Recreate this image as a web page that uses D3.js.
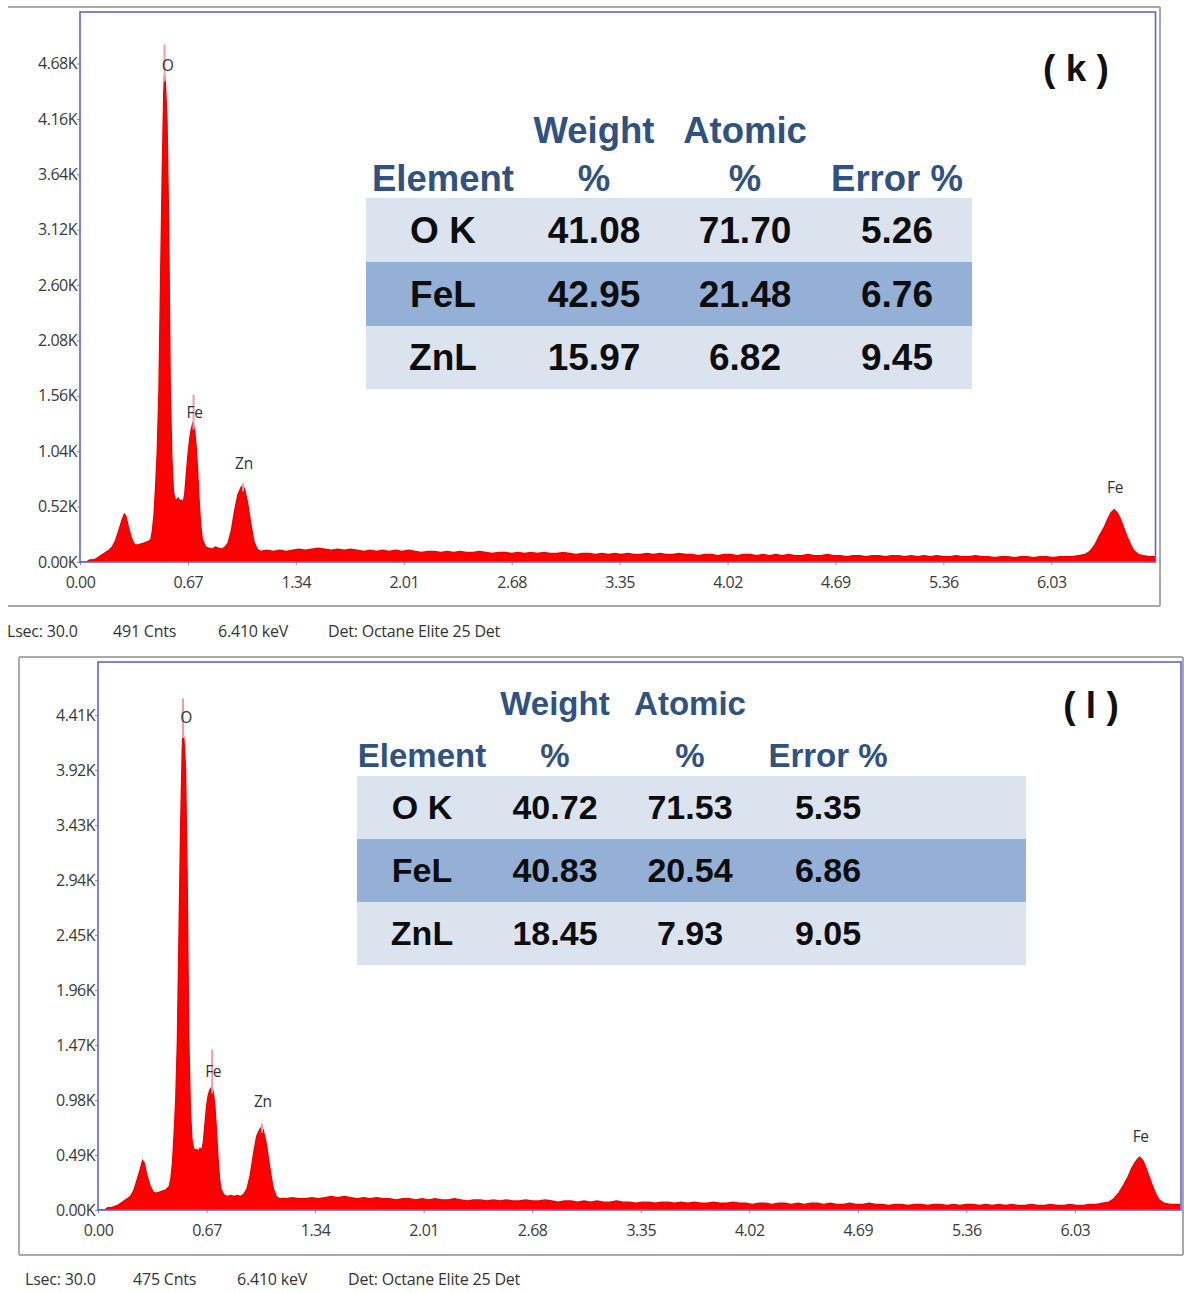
<!DOCTYPE html>
<html>
<head>
<meta charset="utf-8">
<script src="https://cdn.jsdelivr.net/npm/d3@7"></script>
<style>
  html, body { margin: 0; padding: 0; background: #fff; }
  svg { display: block; }
</style>
</head>
<body>
<svg id="fig" width="1184" height="1293"></svg>
<script>
// ---------------- EDS spectra: [energy (keV), counts (K)] ----------------
const spectrumK = [
  [0.00,0.00],[0.04,0.00],[0.06,0.02],[0.08,0.02],[0.10,0.03],[0.12,0.05],[0.14,0.07],[0.16,0.09],
  [0.18,0.11],[0.20,0.14],[0.22,0.20],[0.24,0.29],[0.26,0.39],[0.275,0.45],[0.285,0.43],[0.30,0.33],
  [0.32,0.22],[0.34,0.16],[0.36,0.16],[0.38,0.17],[0.40,0.18],[0.42,0.19],[0.44,0.21],[0.45,0.30],
  [0.46,0.45],[0.47,0.72],[0.48,1.05],[0.49,1.60],[0.50,2.60],[0.51,3.60],[0.52,4.40],[0.525,4.57],
  [0.53,4.50],[0.54,4.15],[0.55,3.20],[0.56,1.65],[0.57,0.98],[0.58,0.66],[0.59,0.59],[0.60,0.58],
  [0.61,0.60],[0.62,0.57],[0.63,0.58],[0.64,0.56],[0.65,0.63],[0.66,0.82],[0.67,1.00],[0.68,1.14],
  [0.69,1.24],[0.70,1.30],[0.71,1.26],[0.72,1.10],[0.73,0.86],[0.74,0.56],[0.75,0.33],[0.76,0.21],
  [0.78,0.14],[0.80,0.13],[0.82,0.12],[0.84,0.14],[0.86,0.13],[0.88,0.12],[0.90,0.14],[0.92,0.18],
  [0.94,0.30],[0.96,0.48],[0.98,0.63],[1.00,0.70],[1.01,0.72],[1.02,0.69],[1.04,0.56],[1.06,0.36],
  [1.08,0.19],[1.10,0.12],[1.12,0.10],[1.16,0.11],[1.20,0.10],[1.24,0.11],[1.28,0.10],[1.32,0.11],
  [1.36,0.12],[1.40,0.11],[1.44,0.12],[1.48,0.13],[1.52,0.12],[1.56,0.11],[1.60,0.12],[1.64,0.11],
  [1.68,0.12],[1.72,0.11],[1.76,0.10],[1.80,0.11],[1.84,0.10],[1.88,0.11],[1.92,0.10],[1.96,0.11],
  [2.00,0.10],[2.04,0.11],[2.08,0.10],[2.12,0.09],[2.16,0.10],[2.20,0.10],[2.24,0.09],[2.28,0.10],
  [2.32,0.09],[2.36,0.10],[2.40,0.09],[2.44,0.09],[2.48,0.10],[2.52,0.09],[2.56,0.08],[2.60,0.09],
  [2.64,0.09],[2.68,0.08],[2.72,0.09],[2.76,0.08],[2.80,0.09],[2.84,0.08],[2.88,0.09],[2.92,0.08],
  [2.96,0.08],[3.00,0.09],[3.04,0.08],[3.08,0.07],[3.12,0.08],[3.16,0.08],[3.20,0.07],[3.24,0.08],
  [3.28,0.07],[3.32,0.08],[3.36,0.07],[3.40,0.08],[3.44,0.07],[3.48,0.07],[3.52,0.08],[3.56,0.07],
  [3.60,0.08],[3.64,0.07],[3.68,0.07],[3.72,0.08],[3.76,0.07],[3.80,0.07],[3.84,0.06],[3.88,0.07],
  [3.92,0.07],[3.96,0.06],[4.00,0.07],[4.04,0.07],[4.08,0.06],[4.12,0.07],[4.16,0.07],[4.20,0.06],
  [4.24,0.07],[4.28,0.06],[4.32,0.07],[4.36,0.06],[4.40,0.07],[4.44,0.06],[4.48,0.06],[4.52,0.07],
  [4.56,0.06],[4.60,0.06],[4.64,0.07],[4.68,0.06],[4.72,0.06],[4.76,0.05],[4.80,0.06],[4.84,0.06],
  [4.88,0.05],[4.92,0.06],[4.96,0.06],[5.00,0.05],[5.04,0.06],[5.08,0.06],[5.12,0.05],[5.16,0.06],
  [5.20,0.05],[5.24,0.06],[5.28,0.05],[5.32,0.06],[5.36,0.05],[5.40,0.05],[5.44,0.06],[5.48,0.05],
  [5.52,0.05],[5.56,0.06],[5.60,0.05],[5.64,0.05],[5.68,0.04],[5.72,0.05],[5.76,0.05],[5.80,0.04],
  [5.84,0.05],[5.88,0.05],[5.92,0.04],[5.96,0.05],[6.00,0.05],[6.04,0.04],[6.08,0.05],[6.12,0.05],
  [6.16,0.05],[6.20,0.06],[6.24,0.07],[6.27,0.10],[6.30,0.16],[6.33,0.25],[6.36,0.33],[6.38,0.40],
  [6.40,0.46],[6.42,0.49],[6.44,0.46],[6.46,0.40],[6.48,0.32],[6.50,0.24],[6.52,0.17],[6.54,0.11],
  [6.57,0.07],[6.60,0.06],[6.64,0.05],[6.68,0.05]
];

const spectrumL = [
  [0.00,0.00],[0.04,0.00],[0.06,0.02],[0.08,0.02],[0.10,0.03],[0.12,0.04],[0.14,0.06],[0.16,0.08],
  [0.18,0.10],[0.20,0.12],[0.22,0.17],[0.24,0.26],[0.26,0.36],[0.275,0.44],[0.285,0.42],[0.30,0.32],
  [0.32,0.22],[0.34,0.16],[0.36,0.15],[0.38,0.16],[0.40,0.17],[0.42,0.18],[0.44,0.21],[0.45,0.28],
  [0.46,0.42],[0.47,0.68],[0.48,0.98],[0.49,1.50],[0.50,2.45],[0.51,3.40],[0.52,4.10],[0.525,4.26],
  [0.53,4.20],[0.54,3.95],[0.55,3.00],[0.56,1.55],[0.57,0.90],[0.58,0.62],[0.59,0.55],[0.60,0.53],
  [0.61,0.54],[0.62,0.52],[0.63,0.55],[0.64,0.53],[0.65,0.60],[0.66,0.76],[0.67,0.92],[0.68,1.02],
  [0.69,1.07],[0.70,1.09],[0.71,1.06],[0.72,0.95],[0.73,0.74],[0.74,0.48],[0.75,0.28],[0.76,0.18],
  [0.78,0.13],[0.80,0.12],[0.82,0.13],[0.84,0.12],[0.86,0.13],[0.88,0.12],[0.90,0.14],[0.92,0.19],
  [0.94,0.31],[0.96,0.50],[0.98,0.66],[1.00,0.72],[1.01,0.74],[1.02,0.71],[1.04,0.58],[1.06,0.38],
  [1.08,0.20],[1.10,0.12],[1.12,0.10],[1.16,0.10],[1.20,0.11],[1.24,0.10],[1.28,0.10],[1.32,0.11],
  [1.36,0.10],[1.40,0.11],[1.44,0.12],[1.48,0.11],[1.52,0.12],[1.56,0.11],[1.60,0.10],[1.64,0.11],
  [1.68,0.10],[1.72,0.11],[1.76,0.10],[1.80,0.10],[1.84,0.09],[1.88,0.10],[1.92,0.10],[1.96,0.09],
  [2.00,0.10],[2.04,0.09],[2.08,0.10],[2.12,0.09],[2.16,0.09],[2.20,0.10],[2.24,0.09],[2.28,0.08],
  [2.32,0.09],[2.36,0.09],[2.40,0.08],[2.44,0.09],[2.48,0.08],[2.52,0.09],[2.56,0.08],[2.60,0.08],
  [2.64,0.09],[2.68,0.08],[2.72,0.08],[2.76,0.09],[2.80,0.08],[2.84,0.07],[2.88,0.08],[2.92,0.08],
  [2.96,0.07],[3.00,0.08],[3.04,0.07],[3.08,0.08],[3.12,0.07],[3.16,0.07],[3.20,0.08],[3.24,0.07],
  [3.28,0.07],[3.32,0.06],[3.36,0.07],[3.40,0.07],[3.44,0.06],[3.48,0.07],[3.52,0.07],[3.56,0.06],
  [3.60,0.07],[3.64,0.06],[3.68,0.07],[3.72,0.06],[3.76,0.06],[3.80,0.07],[3.84,0.06],[3.88,0.06],
  [3.92,0.07],[3.96,0.06],[4.00,0.06],[4.04,0.05],[4.08,0.06],[4.12,0.06],[4.16,0.05],[4.20,0.06],
  [4.24,0.06],[4.28,0.05],[4.32,0.06],[4.36,0.05],[4.40,0.06],[4.44,0.06],[4.48,0.05],[4.52,0.06],
  [4.56,0.05],[4.60,0.05],[4.64,0.06],[4.68,0.05],[4.72,0.05],[4.76,0.06],[4.80,0.05],[4.84,0.05],
  [4.88,0.04],[4.92,0.05],[4.96,0.05],[5.00,0.04],[5.04,0.05],[5.08,0.05],[5.12,0.04],[5.16,0.05],
  [5.20,0.05],[5.24,0.04],[5.28,0.05],[5.32,0.04],[5.36,0.05],[5.40,0.05],[5.44,0.04],[5.48,0.05],
  [5.52,0.04],[5.56,0.05],[5.60,0.04],[5.64,0.05],[5.68,0.04],[5.72,0.04],[5.76,0.05],[5.80,0.04],
  [5.84,0.04],[5.88,0.05],[5.92,0.04],[5.96,0.04],[6.00,0.05],[6.04,0.04],[6.08,0.04],[6.12,0.05],
  [6.16,0.05],[6.20,0.06],[6.24,0.07],[6.27,0.10],[6.30,0.15],[6.33,0.22],[6.36,0.30],[6.38,0.37],
  [6.40,0.42],[6.42,0.46],[6.43,0.47],[6.45,0.44],[6.47,0.37],[6.49,0.29],[6.51,0.21],[6.53,0.14],
  [6.55,0.09],[6.58,0.06],[6.62,0.05],[6.68,0.05]
];

// ---------------- axis ticks ----------------
const xTicks  = [0.00, 0.67, 1.34, 2.01, 2.68, 3.35, 4.02, 4.69, 5.36, 6.03];
const yTicksK = [0.00, 0.52, 1.04, 1.56, 2.08, 2.60, 3.12, 3.64, 4.16, 4.68];
const yTicksL = [0.00, 0.49, 0.98, 1.47, 1.96, 2.45, 2.94, 3.43, 3.92, 4.41];

// ---------------- element line markers: energy, marker tip (K), label height (K) ----------------
const markersK = [
  { el: "O",  keV: 0.525, peak: 4.57, tip: 4.86, label: 4.66 },
  { el: "Fe", keV: 0.705, peak: 1.30, tip: 1.57, label: 1.40 },
  { el: "Zn", keV: 1.012, peak: 0.72, tip: 0.74, label: 0.92 },
  { el: "Fe", keV: 6.420, peak: 0.49, tip: 0.49, label: 0.70 }
];
const markersL = [
  { el: "O",  keV: 0.525, peak: 4.26, tip: 4.56, label: 4.39 },
  { el: "Fe", keV: 0.705, peak: 1.09, tip: 1.43, label: 1.23 },
  { el: "Zn", keV: 1.012, peak: 0.74, tip: 0.77, label: 0.97 },
  { el: "Fe", keV: 6.430, peak: 0.47, tip: 0.47, label: 0.65 }
];

// ---------------- quantification tables ----------------
const tableElements = ["O K", "FeL", "ZnL"];
const weightK = [41.08, 42.95, 15.97];
const atomicK = [71.70, 21.48, 6.82];
const errorK  = [5.26, 6.76, 9.45];
const weightL = [40.72, 40.83, 18.45];
const atomicL = [71.53, 20.54, 7.93];
const errorL  = [5.35, 6.86, 9.05];

// ---------------- acquisition footers ----------------
const footerK = ["Lsec: 30.0", "491 Cnts", "6.410 keV", "Det: Octane Elite 25 Det"];
const footerL = ["Lsec: 30.0", "475 Cnts", "6.410 keV", "Det: Octane Elite 25 Det"];

// ---------------- layout ----------------
const panels = [
  {
    tag: "( k )", tagPos: [1076, 68],
    frame: { x0: 8, y0: 7, x1: 1160, y1: 606, left: false },
    plot: { left: 80, top: 12, right: 1155.5, bottom: 562 },
    xMax: 6.677, yMax: 5.164,
    spectrum: spectrumK, yTicks: yTicksK, markers: markersK,
    footer: footerK, footerX: [7, 113, 218, 328], footerY: 631,
    table: { x0: 366, x1: 972, rowTops: [198, 262, 326, 389], cols: [443, 594, 745, 897],
             head1: 130, head2: 178, headSize: 36.5, bodySize: 37,
             weight: weightK, atomic: atomicK, error: errorK }
  },
  {
    tag: "( l )", tagPos: [1091, 705],
    frame: { x0: 19, y0: 657, x1: 1183, y1: 1255, left: true },
    plot: { left: 98, top: 662, right: 1181, bottom: 1210 },
    xMax: 6.685, yMax: 4.884,
    spectrum: spectrumL, yTicks: yTicksL, markers: markersL,
    footer: footerL, footerX: [25, 133, 237, 348], footerY: 1279,
    table: { x0: 357, x1: 1026, rowTops: [776, 839, 902, 965], cols: [422, 555, 690, 828],
             head1: 703, head2: 755, headSize: 33, bodySize: 34,
             weight: weightL, atomic: atomicL, error: errorL }
  }
];

const svg = d3.select("#fig");
svg.append("rect").attr("width", 1184).attr("height", 1293).attr("fill", "#fff");

const uiFont = "'Open Sans', 'Noto Sans', sans-serif";
const tableFont = "'Liberation Sans', Arial, sans-serif";
const fmt2 = d3.format(".2f");

panels.forEach((p, pi) => {
  const g = svg.append("g");
  const f = p.frame;

  // outer window frame
  const frame = g.append("g").attr("stroke", "#a9a9a9").attr("stroke-width", 2).attr("fill", "none");
  frame.append("line").attr("x1", f.x0).attr("x2", f.x1).attr("y1", f.y0).attr("y2", f.y0);
  frame.append("line").attr("x1", f.x1).attr("x2", f.x1).attr("y1", f.y0).attr("y2", f.y1);
  frame.append("line").attr("x1", f.x0).attr("x2", f.x1).attr("y1", f.y1).attr("y2", f.y1);
  if (f.left) frame.append("line").attr("x1", f.x0).attr("x2", f.x0).attr("y1", f.y0).attr("y2", f.y1);

  const x = d3.scaleLinear().domain([0, p.xMax]).range([p.plot.left, p.plot.right]);
  const y = d3.scaleLinear().domain([0, p.yMax]).range([p.plot.bottom, p.plot.top]);

  // spectrum
  const clipId = "clip" + pi;
  g.append("clipPath").attr("id", clipId).append("rect")
    .attr("x", p.plot.left).attr("y", p.plot.top)
    .attr("width", p.plot.right - p.plot.left).attr("height", p.plot.bottom - p.plot.top);

  const area = d3.area().x(d => x(d[0])).y0(y(0)).y1(d => y(d[1]));
  const line = d3.line().x(d => x(d[0])).y(d => y(d[1]));
  const sg = g.append("g").attr("clip-path", `url(#${clipId})`);
  sg.append("path").datum(p.spectrum).attr("d", area).attr("fill", "#ff0000");
  sg.append("path").datum(p.spectrum).attr("d", line)
    .attr("fill", "none").attr("stroke", "#ee0000").attr("stroke-width", 1.4);

  // element markers
  sg.selectAll("line.marker").data(p.markers.filter(m => m.tip > m.peak)).join("line")
    .attr("x1", m => x(m.keV)).attr("x2", m => x(m.keV))
    .attr("y1", m => y(m.peak) + 6).attr("y2", m => y(m.tip))
    .attr("stroke", "#f29aa6").attr("stroke-width", 2);

  g.selectAll("text.el").data(p.markers).join("text")
    .attr("x", m => x(m.keV) + (m.el === "O" ? 3 : 1))
    .attr("y", m => y(m.label))
    .attr("text-anchor", "middle").attr("dy", "0.35em")
    .attr("font-family", uiFont).attr("font-size", 15.5).attr("fill", "#333")
    .attr("letter-spacing", "-0.3")
    .text(m => m.el);

  // axes
  const xAxis = d3.axisBottom(x).tickValues(xTicks).tickFormat(fmt2).tickSize(3).tickPadding(12);
  const yAxis = d3.axisLeft(y).tickValues(p.yTicks).tickFormat(v => fmt2(v) + "K").tickSize(3).tickPadding(0);

  const gx = g.append("g").attr("transform", `translate(0,${p.plot.bottom})`).call(xAxis);
  const gy = g.append("g").attr("transform", `translate(${p.plot.left},0)`).call(yAxis);
  [gx, gy].forEach(a => {
    a.select(".domain").remove();
    a.selectAll(".tick line").attr("stroke", "#8080d0");
    a.selectAll(".tick text").attr("font-family", uiFont).attr("font-size", 16)
      .attr("fill", "#3a3a3a").attr("letter-spacing", "-0.5");
  });

  // plot border
  g.append("rect")
    .attr("x", p.plot.left).attr("y", p.plot.top)
    .attr("width", p.plot.right - p.plot.left).attr("height", p.plot.bottom - p.plot.top)
    .attr("fill", "none").attr("stroke", "#6262d8").attr("stroke-width", 1.6);

  // footer
  g.selectAll("text.foot").data(p.footer).join("text")
    .attr("x", (d, i) => p.footerX[i]).attr("y", p.footerY).attr("dy", "0.35em")
    .attr("font-family", uiFont).attr("font-size", 16).attr("fill", "#333")
    .attr("letter-spacing", "-0.2")
    .text(d => d);

  // panel tag
  g.append("text").attr("x", p.tagPos[0]).attr("y", p.tagPos[1]).attr("dy", "0.35em")
    .attr("text-anchor", "middle").attr("font-family", tableFont).attr("font-weight", "bold")
    .attr("font-size", 37).attr("fill", "#111").text(p.tag);

  // composition table
  const t = p.table;
  const tg = g.append("g").attr("font-family", tableFont).attr("font-weight", "bold")
    .attr("text-anchor", "middle");
  const rowFill = ["#dbe3ef", "#95b0d6", "#dbe3ef"];
  tableElements.forEach((el, i) => {
    tg.append("rect").attr("x", t.x0).attr("y", t.rowTops[i])
      .attr("width", t.x1 - t.x0).attr("height", t.rowTops[i + 1] - t.rowTops[i])
      .attr("fill", rowFill[i]);
  });
  const headColor = "#2f5283";
  const head = [
    [t.cols[1], t.head1, "Weight"], [t.cols[2], t.head1, "Atomic"],
    [t.cols[0], t.head2, "Element"], [t.cols[1], t.head2, "%"],
    [t.cols[2], t.head2, "%"], [t.cols[3], t.head2, "Error %"]
  ];
  head.forEach(([hx, hy, s]) => {
    tg.append("text").attr("x", hx).attr("y", hy).attr("dy", "0.35em")
      .attr("font-size", t.headSize).attr("fill", headColor).text(s);
  });
  tableElements.forEach((el, i) => {
    const cy = (t.rowTops[i] + t.rowTops[i + 1]) / 2;
    const cells = [el, fmt2(t.weight[i]), fmt2(t.atomic[i]), fmt2(t.error[i])];
    cells.forEach((s, j) => {
      tg.append("text").attr("x", t.cols[j]).attr("y", cy).attr("dy", "0.35em")
        .attr("font-size", t.bodySize).attr("fill", "#0d0d0d").text(s);
    });
  });
});
</script>
</body>
</html>
